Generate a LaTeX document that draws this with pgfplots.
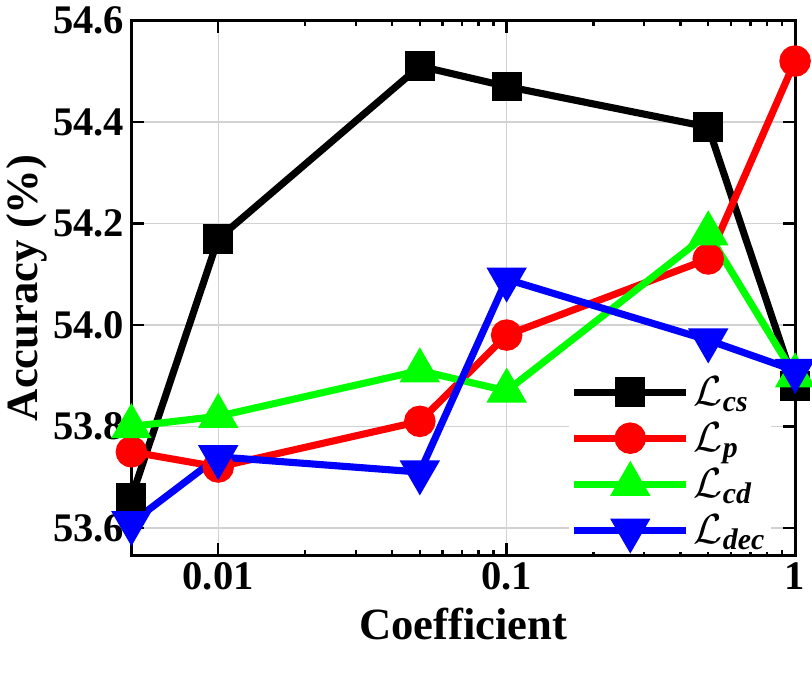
\documentclass[border=0pt]{standalone}
\usepackage{fontspec}
\setmainfont{Liberation Serif}
\usepackage{amsmath}
\usepackage{pgfplots}
\pgfplotsset{compat=1.18}
\definecolor{mygreen}{RGB}{0,255,0}

\begin{document}
\begin{tikzpicture}
\begin{axis}[
  scale only axis,
  width=327pt, height=263.5pt,
  xmode=log,
  xmin=0.005, xmax=1,
  ymin=53.546, ymax=54.6,
  xtick={0.01,0.1,1}, xticklabels={0.01,0.1,1},
  minor xtick={},
  ytick={53.6,53.8,54.0,54.2,54.4,54.6},
  yticklabel style={/pgf/number format/fixed, /pgf/number format/fixed zerofill, /pgf/number format/precision=1},
  /pgf/number format/assume math mode=true,
  tick label style={font=\fontsize{20}{22}\selectfont\bfseries},
  label style={font=\fontsize{22}{24}\selectfont\bfseries},
  xlabel={Coefficient\rule[-14pt]{0pt}{1pt}},
  ylabel={Accuracy (\%)},
  xlabel style={yshift=-2pt},
  ylabel style={yshift=-4pt},
  tick align=inside,
  major tick length=6pt,
  tick style={line width=1.2pt, black},
  axis line style={line width=1.5pt},
  grid=major,
  grid style={line width=0.6pt, gray!35},
  every axis plot/.append style={line width=3.5pt},
  clip=false,
  legend style={at={(0.965,0.005)}, anchor=south east, draw=none, fill=white,
    font=\fontsize{21}{23}\selectfont, row sep=3pt, inner sep=1pt},
  legend cell align=left,
  legend image code/.code={%
    \draw[mark repeat=2, mark phase=2] plot coordinates {(0cm,0cm) (0.97cm,0cm) (1.94cm,0cm)};},
]
\addplot[black, mark=square*, mark size=5.6pt] coordinates {
  (0.005,53.66) (0.01,54.17) (0.05,54.51) (0.1,54.47) (0.5,54.39) (1,53.88)};
\addlegendentry{$\mathcal{L}_{\textbf{\textit{cs}}}$}
\addplot[red, mark=*, mark size=6pt] coordinates {
  (0.005,53.75) (0.01,53.72) (0.05,53.81) (0.1,53.98) (0.5,54.13) (1,54.52)};
\addlegendentry{$\mathcal{L}_{\textbf{\textit{p}}}$}
\addplot[mygreen, mark=triangle*, mark size=8pt] coordinates {
  (0.005,53.80) (0.01,53.82) (0.05,53.91) (0.1,53.87) (0.5,54.18) (1,53.90)};
\addlegendentry{$\mathcal{L}_{\textbf{\textit{cd}}}$}
\addplot[blue, mark=triangle*, mark options={rotate=180}, mark size=8pt] coordinates {
  (0.005,53.61) (0.01,53.74) (0.05,53.71) (0.1,54.09) (0.5,53.97) (1,53.91)};
\addlegendentry{$\mathcal{L}_{\textbf{\textit{dec}}}$}
\end{axis}
\end{tikzpicture}
\end{document}
